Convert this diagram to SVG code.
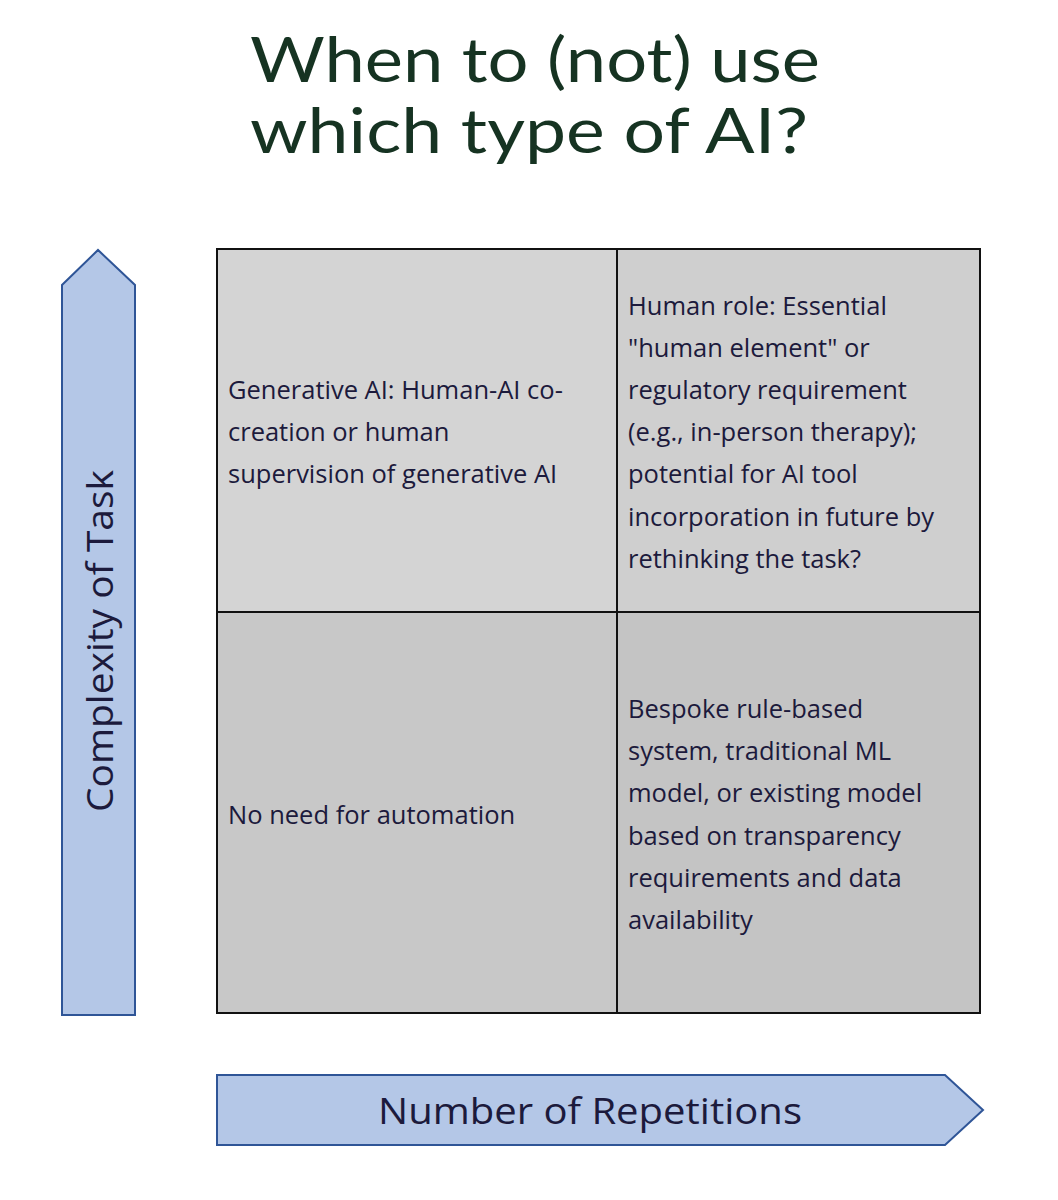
<svg xmlns="http://www.w3.org/2000/svg" width="1058" height="1200" viewBox="0 0 1058 1200">
<style>
.t{font-family:"Open Sans","DejaVu Sans",sans-serif;font-size:25.5px;fill:#1c1a3c}
.ttl{font-family:"Lato","Open Sans",sans-serif;font-size:62px;fill:#163322}
.ar{fill:#b4c7e7;stroke:#2f5597;stroke-width:2}
.c{stroke:#111;stroke-width:2}
</style>
<rect width="1058" height="1200" fill="#fff"/>
<g id="title"><text class="ttl" x="250" y="82" textLength="570" lengthAdjust="spacingAndGlyphs">When to (not) use</text><text class="ttl" x="250" y="153" textLength="558" lengthAdjust="spacingAndGlyphs">which type of AI?</text></g>
<g id="yaxis"><polygon class="ar" points="62,1015 62,285 98,250 135,285 135,1015"/>
<text class="t" style="font-size:36px" transform="translate(113,812) rotate(-90)" textLength="342" lengthAdjust="spacingAndGlyphs">Complexity of Task</text></g>
<g id="xaxis"><polygon class="ar" points="217,1075 945,1075 983,1110 945,1145 217,1145"/>
<text class="t" style="font-size:36px" x="378" y="1124" textLength="424" lengthAdjust="spacingAndGlyphs">Number of Repetitions</text></g>
<g id="q1"><rect class="c" x="217" y="249" width="400" height="363" fill="#d4d4d4"/>
<text class="t" x="228" y="399">Generative AI: Human-AI co-</text><text class="t" x="228" y="441">creation or human</text><text class="t" x="228" y="483">supervision of generative AI</text></g>
<g id="q2"><rect class="c" x="617" y="249" width="363" height="363" fill="#cfcfcf"/>
<text class="t" x="628" y="315">Human role: Essential</text><text class="t" x="628" y="357">"human element" or</text><text class="t" x="628" y="399">regulatory requirement</text><text class="t" x="628" y="441">(e.g., in-person therapy);</text><text class="t" x="628" y="483">potential for AI tool</text><text class="t" x="628" y="526">incorporation in future by</text><text class="t" x="628" y="568">rethinking the task?</text></g>
<g id="q3"><rect class="c" x="217" y="612" width="400" height="401" fill="#c8c8c8"/>
<text class="t" x="228" y="824">No need for automation</text></g>
<g id="q4"><rect class="c" x="617" y="612" width="363" height="401" fill="#c4c4c4"/>
<text class="t" x="628" y="718">Bespoke rule-based</text><text class="t" x="628" y="760">system, traditional ML</text><text class="t" x="628" y="802">model, or existing model</text><text class="t" x="628" y="845">based on transparency</text><text class="t" x="628" y="887">requirements and data</text><text class="t" x="628" y="929">availability</text></g>
</svg>
